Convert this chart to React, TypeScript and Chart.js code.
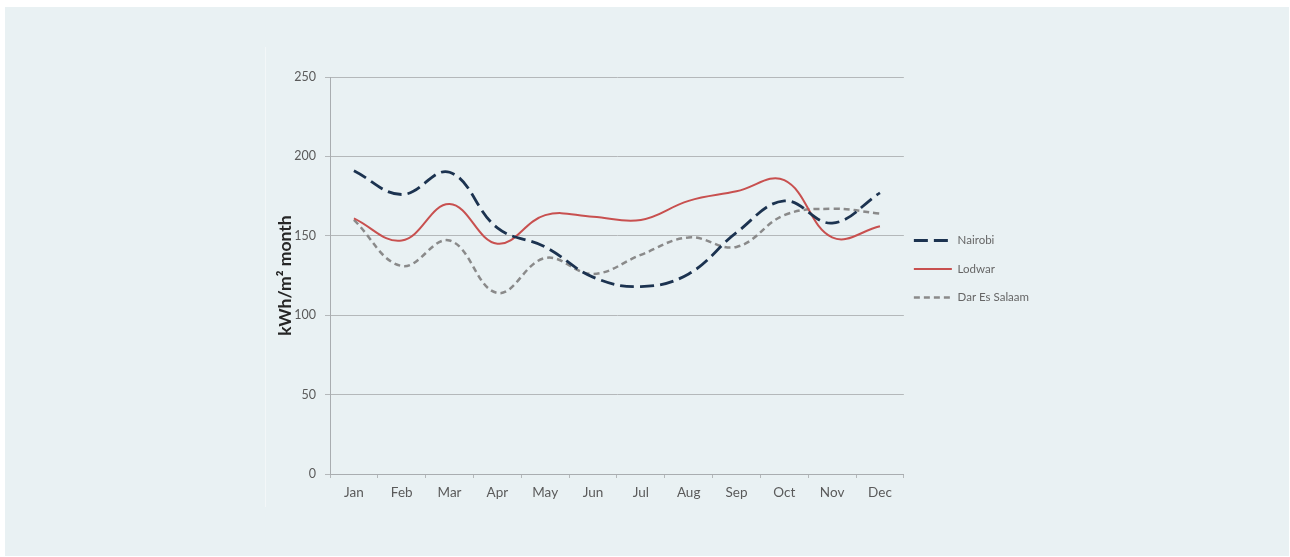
import React, { useEffect, useRef } from "react";
import { Chart, registerables } from "chart.js";

Chart.register(...registerables);

const months = ["Jan", "Feb", "Mar", "Apr", "May", "Jun", "Jul", "Aug", "Sep", "Oct", "Nov", "Dec"];
const nairobi = [191, 176, 190, 155, 143, 124, 118, 126, 152, 172, 158, 177];
const lodwar = [161, 147, 170, 145, 163, 162, 160, 172, 178, 185, 149, 156];
const darEsSalaam = [160, 131, 147, 114, 136, 126, 138, 149, 143, 163, 167, 164];
const yTicks = [0, 50, 100, 150, 200, 250];

const FONT = "Lato, 'Open Sans', sans-serif";

const legendShift = {
  id: "legendShift",
  afterLayout(chart: any) {
    if (chart.legend) {
      chart.legend.bottom -= 46;
      chart.legend.left -= 7;
    }
  },
};

export default function App() {
  const ref = useRef<HTMLCanvasElement | null>(null);

  useEffect(() => {
    if (!ref.current) return;
    const chart = new Chart(ref.current, {
      type: "line",
      data: {
        labels: months,
        datasets: [
          {
            label: "Nairobi",
            data: nairobi,
            borderColor: "#1c3350",
            backgroundColor: "#1c3350",
            borderWidth: 2.8,
            borderDash: [14, 6],
            tension: 0.4,
            pointRadius: 0,
            fill: false,
          },
          {
            label: "Lodwar",
            data: lodwar,
            borderColor: "#c8504f",
            backgroundColor: "#c8504f",
            borderWidth: 2,
            tension: 0.4,
            pointRadius: 0,
            fill: false,
          },
          {
            label: "Dar Es Salaam",
            data: darEsSalaam,
            borderColor: "#8a8a8a",
            backgroundColor: "#8a8a8a",
            borderWidth: 2.5,
            borderDash: [6, 4],
            tension: 0.4,
            pointRadius: 0,
            fill: false,
          },
        ],
      },
      plugins: [legendShift],
      options: {
        animation: false,
        responsive: false,
        maintainAspectRatio: false,
        layout: { padding: { top: 30, left: 10, right: 2, bottom: 0 } },
        plugins: {
          tooltip: { enabled: false },
          legend: {
            position: "right",
            labels: {
              usePointStyle: true,
              pointStyle: "line",
              pointStyleWidth: 38,
              boxHeight: 10,
              padding: 17,
              color: "#666666",
              font: { family: FONT, size: 11.5 },
              generateLabels: (c: any) => {
                const items = Chart.defaults.plugins.legend.labels.generateLabels(c);
                return items.map((it: any) => {
                  const ds: any = c.data.datasets[it.datasetIndex];
                  return { ...it, lineDash: ds.borderDash || [], lineWidth: ds.borderWidth, strokeStyle: ds.borderColor };
                });
              },
            },
          },
        },
        scales: {
          x: {
            offset: true,
            grid: {
              offset: true,
              drawOnChartArea: false,
              drawTicks: true,
              tickLength: 4,
              color: "#b4b8ba",
            },
            border: { display: true, color: "#a9adb0", width: 1 },
            ticks: {
              padding: 7,
              color: "#5a5a5a",
              font: { family: FONT, size: 13.5 },
              maxRotation: 0,
            },
            afterFit: (s: any) => {
              s.height = 33;
            },
          },
          y: {
            min: 0,
            max: 250,
            afterBuildTicks: (s: any) => {
              s.ticks = yTicks.map((v) => ({ value: v }));
            },
            grid: {
              color: "#b4b8ba",
              tickLength: 5,
              drawTicks: true,
            },
            border: { display: true, color: "#a9adb0", width: 1 },
            ticks: {
              padding: 9,
              color: "#5a5a5a",
              font: { family: FONT, size: 12.5 },
            },
            title: {
              display: true,
              text: "kWh/m² month",
              color: "#262626",
              font: { family: FONT, size: 17.5, weight: "bold" },
              padding: { top: 0, bottom: 0 },
            },
            afterFit: (s: any) => {
              s.width = 55;
            },
          },
        },
      },
    });
    return () => chart.destroy();
  }, []);

  return (
    <div style={{ position: "fixed", left: 0, top: 0, width: 1290, height: 557, background: "#ffffff" }}>
      <div
        style={{
          position: "absolute",
          left: 5,
          top: 7,
          width: 1284,
          height: 549,
          background: "#e9f1f3",
        }}
      />
      <div
        style={{
          position: "absolute",
          left: 265,
          top: 47,
          width: 1,
          height: 460,
          background: "#f3f7f8",
        }}
      />
      <canvas
        ref={ref}
        width={783}
        height={460}
        style={{ position: "absolute", left: 265, top: 47, width: 783, height: 460 }}
      />
    </div>
  );
}
